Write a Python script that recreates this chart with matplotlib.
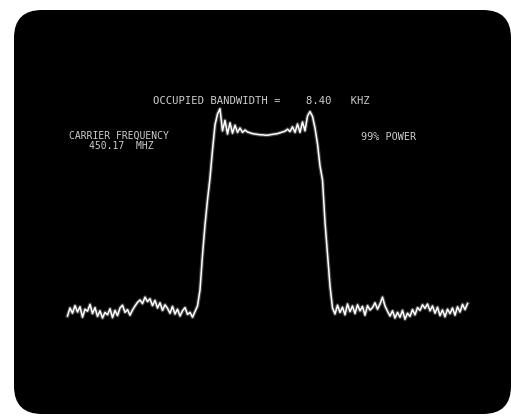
import numpy as np
import matplotlib.pyplot as plt
from matplotlib.patches import FancyBboxPatch

# sweep: 161 points, 0.25 kHz apart, offset from carrier (kHz)
f_start, f_step = -19.75, 0.25

left_noise = [-51.5, -49.5, -50.8, -48.9, -50.5, -49.2, -51.8, -49.8, -50.3, -48.6,
              -50.9, -49.4, -51.6, -50.2, -52.0, -50.6, -51.2, -49.7, -51.9, -50.1,
              -51.4, -49.5, -48.8, -50.6, -49.9, -51.3, -50.0, -49.0, -48.1, -47.5,
              -48.4, -46.8, -47.9, -47.2, -48.9, -47.6, -49.5, -48.2, -50.1, -48.7,
              -49.6, -50.8, -49.1, -51.0, -49.8, -51.5, -50.2, -49.4, -51.1, -50.6,
              -51.8, -50.4, -49.0]
rise = [-45.0, -36.25, -28.75, -22.5, -17.0, -10.0, -3.75, -1.0]
top = [0.3, -5.2, -2.6, -6.0, -3.2, -5.8, -3.8, -5.6, -4.5, -5.6, -5.0,
       -5.5, -5.7, -5.9, -6.0, -6.1, -6.2, -6.2, -6.3, -6.3, -6.2, -6.1, -6.0,
       -5.9, -5.7, -5.5, -5.3,
       -4.8, -5.4, -4.2, -5.6, -3.5, -5.6, -3.0, -5.2, -1.5, -0.4, -1.6]
fall = [-4.5, -8.5, -14.0, -17.5, -28.0, -36.0, -44.0, -49.5]
right_noise = [-51.0, -48.8, -50.6, -49.3, -51.2, -48.5, -50.4, -49.0, -50.9, -48.7,
               -50.2, -49.1, -51.3, -48.9, -50.0, -49.4, -48.2, -49.8, -48.5, -46.8,
               -49.0, -50.3, -51.5, -50.2, -52.0, -50.6, -51.8, -50.1, -52.3, -50.8,
               -51.6, -49.9, -51.2, -49.4, -50.1, -48.7, -49.6, -48.5, -50.2, -49.0,
               -50.8, -49.3, -51.4, -50.0, -51.7, -49.8, -50.9, -49.5, -51.3, -49.2,
               -50.5, -48.6, -49.9, -48.4]

level_db = np.array(left_noise + rise + top + fall + right_noise)
freq_khz = f_start + f_step * np.arange(len(level_db))

occupied_bw = "8.40"
carrier_freq = "450.17"

fig = plt.figure(figsize=(5.11, 4.16), dpi=100)
fig.patch.set_facecolor('white')

# screen (pixel units)
bg = fig.add_axes([0, 0, 1, 1])
bg.set_xlim(0, 511)
bg.set_ylim(416, 0)
bg.axis('off')
bg.add_patch(FancyBboxPatch((14, 10), 497, 404,
                            boxstyle="round,pad=0,rounding_size=28",
                            fc='black', ec='none'))

# trace
ax = fig.add_axes([0, 0, 1, 1])
ax.patch.set_alpha(0)
ax.set_xlim(-26.5, 24.6)
ax.set_ylim(-76.5, 27.5)
ax.axis('off')
ax.plot(freq_khz, level_db, color='white', lw=2.8, alpha=0.25)
ax.plot(freq_khz, level_db, color='white', lw=1.1)

txt = dict(color='#cfcfcf', family='DejaVu Sans Mono', va='center', ha='left')
bg.text(153, 101, f"OCCUPIED BANDWIDTH =    {occupied_bw}   KHZ", fontsize=7.6, **txt)
bg.text(69, 136, "CARRIER FREQUENCY", fontsize=7.0, **txt)
bg.text(89, 146, f"{carrier_freq}  MHZ", fontsize=7.0, **txt)
bg.text(361, 137, "99% POWER", fontsize=7.3, **txt)

fig.savefig('out.png', dpi=100, facecolor='white')
